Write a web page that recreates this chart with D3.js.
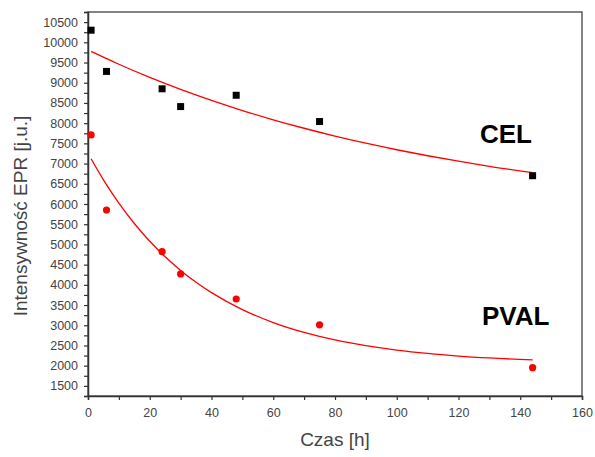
<!DOCTYPE html>
<html><head><meta charset="utf-8">
<script src="https://cdn.jsdelivr.net/npm/d3@7"></script>
<style>
body{margin:0;background:#fff;}
svg{display:block;}
text{font-family:"Liberation Sans",Arial,sans-serif;}
</style></head>
<body>
<svg id="c" width="595" height="457"></svg>
<script>
// Measured data
const celTime = [1, 6, 24, 30, 48, 75, 144];
const celValue = [10300, 9280, 8850, 8410, 8690, 8040, 6700];
const pvalTime = [1, 6, 24, 30, 48, 75, 144];
const pvalValue = [7710, 5850, 4820, 4270, 3650, 3010, 1950];
// Fitted curves
const fitTime = [1, 10, 20, 30, 40, 50, 60, 70, 80, 90, 100, 110, 120, 130, 144];
const celFit = [9775, 9458, 9133, 8836, 8563, 8313, 8084, 7874, 7681, 7504, 7342, 7194, 7058, 6933, 6776];
const pvalFitTime = [1, 5, 10, 15, 20, 25, 30, 35, 40, 50, 60, 70, 80, 90, 100, 110, 120, 130, 144];
const pvalFit = [7120, 6599, 6022, 5518, 5077, 4693, 4357, 4063, 3807, 3388, 3067, 2823, 2636, 2494, 2385, 2302, 2239, 2191, 2142];
const xTicks = [0, 20, 40, 60, 80, 100, 120, 140, 160];
const yTicks = [1500, 2000, 2500, 3000, 3500, 4000, 4500, 5000, 5500, 6000, 6500, 7000, 7500, 8000, 8500, 9000, 9500, 10000, 10500];
const labels = ["CEL", "PVAL"];

const svg = d3.select("#c");
const L = 88, R = 582, T = 12, B = 396;
const x = d3.scaleLinear().domain([0, 160]).range([L, R]);
const y = d3.scaleLinear().domain([1250, 10750]).range([B, T]);

// frame
svg.append("rect").attr("x", L).attr("y", T).attr("width", R - L).attr("height", B - T)
  .attr("fill", "none").attr("stroke", "#444").attr("stroke-width", 1.3);

// x axis
const xMinor = d3.range(0, 161, 10);
const xAxis = svg.append("g").attr("transform", `translate(0,${B})`)
  .call(d3.axisBottom(x).tickValues(xMinor).tickSize(4).tickPadding(8)
    .tickFormat(d => xTicks.includes(d) ? d : ""));
xAxis.select(".domain").attr("stroke", "#333").attr("stroke-width", 1.5);
xAxis.selectAll(".tick line").attr("stroke", "#333").attr("stroke-width", 1.2);
xAxis.selectAll(".tick text").attr("fill", "#444").style("font-size", "12.5px");

// y axis
const yMinor = d3.range(1250, 10751, 250);
const yAxis = svg.append("g").attr("transform", `translate(${L},0)`)
  .call(d3.axisLeft(y).tickValues(yMinor).tickSize(4).tickPadding(6)
    .tickFormat(d => yTicks.includes(d) ? d : ""));
yAxis.select(".domain").attr("stroke", "#333").attr("stroke-width", 1.5);
yAxis.selectAll(".tick line").attr("stroke", "#333").attr("stroke-width", 1.2);
yAxis.selectAll(".tick text").attr("fill", "#444").style("font-size", "12.5px");

// axis titles
svg.append("text").attr("x", (L + R) / 2).attr("y", 446).attr("text-anchor", "middle")
  .attr("fill", "#444").style("font-size", "19px").text("Czas [h]");
svg.append("text").attr("transform", `translate(27,${(T + B) / 2 + 12}) rotate(-90)`)
  .attr("text-anchor", "middle").attr("fill", "#444").style("font-size", "19px")
  .text("Intensywność EPR [j.u.]");

// fit lines
const line = d3.line().x(d => x(d[0])).y(d => y(d[1])).curve(d3.curveMonotoneX);
svg.append("path").datum(fitTime.map((t, i) => [t, celFit[i]]))
  .attr("d", line).attr("fill", "none").attr("stroke", "#ff0000").attr("stroke-width", 1.3);
svg.append("path").datum(pvalFitTime.map((t, i) => [t, pvalFit[i]]))
  .attr("d", line).attr("fill", "none").attr("stroke", "#ff0000").attr("stroke-width", 1.3);

// markers
svg.append("g").selectAll("rect").data(celTime.map((t, i) => [t, celValue[i]])).join("rect")
  .attr("x", d => x(d[0]) - 3.5).attr("y", d => y(d[1]) - 3.5)
  .attr("width", 7).attr("height", 7).attr("fill", "#000");
svg.append("g").selectAll("circle").data(pvalTime.map((t, i) => [t, pvalValue[i]])).join("circle")
  .attr("cx", d => x(d[0])).attr("cy", d => y(d[1])).attr("r", 3.6).attr("fill", "#ff0000");

// series labels
svg.append("text").attr("x", 480).attr("y", 143).style("font-size", "26px")
  .style("font-weight", "bold").attr("fill", "#000").text(labels[0]);
svg.append("text").attr("x", 482).attr("y", 325).style("font-size", "26px")
  .style("font-weight", "bold").attr("fill", "#000").text(labels[1]);
</script>
</body></html>
